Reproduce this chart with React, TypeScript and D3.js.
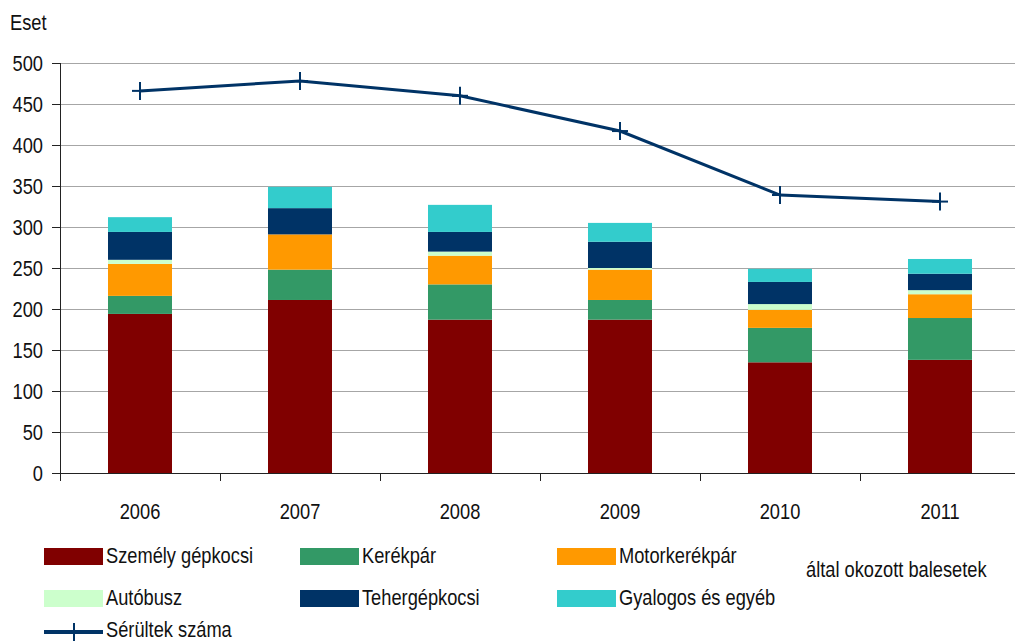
import React from "react";
import * as d3 from "d3";

const years = ["2006", "2007", "2008", "2009", "2010", "2011"];
const szemely = [194, 211, 187, 187, 135, 138];
const kerekpar = [22, 37, 43, 24, 42, 51];
const motor = [39, 43, 35, 37, 22, 29];
const autobusz = [5, 0, 5, 2, 7, 5];
const teher = [34, 32, 24, 32, 27, 20];
const gyalogos = [18, 26, 33, 23, 16, 18];
const serultek = [466, 478, 460, 417, 339, 331];
const yTicks = [0, 50, 100, 150, 200, 250, 300, 350, 400, 450, 500];

const seriesNames = ["Személy gépkocsi", "Kerékpár", "Motorkerékpár", "Autóbusz", "Tehergépkocsi", "Gyalogos és egyéb"];
const seriesColors = ["#800000", "#339966", "#FF9900", "#CCFFCC", "#003366", "#33CCCC"];
const lineName = "Sérültek száma";
const lineColor = "#003366";
const note = "által okozott balesetek";

const FONT = "'Liberation Sans', Arial, sans-serif";
const SX = 0.83;

function T({ x, y, anchor = "start", children }: { x: number; y: number; anchor?: string; children: React.ReactNode }) {
  return (
    <text transform={`translate(${x},${y}) scale(${SX},1)`} textAnchor={anchor} fontSize={22} fill="#111">
      {children}
    </text>
  );
}

export default function App() {
  const W = 1015, H = 641;
  const left = 60, right = 1020, top = 63, bottom = 473;
  const xc = d3.scalePoint().domain(years).range([left, right]).padding(0.5);
  const y = d3.scaleLinear().domain([0, 500]).range([bottom, top]);

  const table = years.map((yr, i) => ({
    year: yr,
    s0: szemely[i], s1: kerekpar[i], s2: motor[i], s3: autobusz[i], s4: teher[i], s5: gyalogos[i],
  }));
  const keys = ["s0", "s1", "s2", "s3", "s4", "s5"];
  const stacked = d3.stack<any>().keys(keys)(table);
  const bw = 64;

  const line = d3.line<number>().x((_, i) => xc(years[i])!).y((d) => y(d));

  const legendCols = [44, 300, 557];
  const legendRows = [548, 590];
  const boundaries = d3.range(years.length + 1).map((i) => left + (i * (right - left)) / years.length);

  return (
    <svg width={W} height={H} style={{ position: "absolute", left: 0, top: 0, background: "#fff" }} fontFamily={FONT}>
      {yTicks.filter((t) => t > 0).map((t) => (
        <line key={t} x1={left} x2={W} y1={y(t) + 0.5} y2={y(t) + 0.5} stroke="#a6a6a6" strokeWidth={1.2} />
      ))}
      {stacked.map((s, si) => (
        <g key={si} fill={seriesColors[si]}>
          {s.map((d, i) => (
            <rect key={i} x={xc(years[i])! - bw / 2} width={bw} y={y(d[1])} height={Math.max(0, y(d[0]) - y(d[1]))} />
          ))}
        </g>
      ))}
      <line x1={left + 0.5} x2={left + 0.5} y1={top} y2={bottom + 8} stroke="#222" strokeWidth={1} />
      <line x1={left - 8} x2={W} y1={bottom + 0.5} y2={bottom + 0.5} stroke="#222" strokeWidth={1} />
      {yTicks.map((t) => (
        <g key={t}>
          <line x1={left - 8} x2={left} y1={y(t) + 0.5} y2={y(t) + 0.5} stroke="#222" />
          <T x={43} y={y(t) + 8} anchor="end">{t}</T>
        </g>
      ))}
      {boundaries.map((b, i) => (
        <line key={i} x1={b + 0.5} x2={b + 0.5} y1={bottom} y2={bottom + 8} stroke="#222" />
      ))}
      {years.map((yr) => (
        <T key={yr} x={xc(yr)!} y={519} anchor="middle">{yr}</T>
      ))}
      <T x={10} y={30}>Eset</T>
      <path d={line(serultek)!} fill="none" stroke={lineColor} strokeWidth={3} />
      {serultek.map((v, i) => (
        <g key={i} stroke={lineColor} strokeWidth={2}>
          <line x1={xc(years[i])! - 8} x2={xc(years[i])! + 8} y1={y(v)} y2={y(v)} />
          <line x1={xc(years[i])!} x2={xc(years[i])!} y1={y(v) - 9} y2={y(v) + 9} />
        </g>
      ))}
      {seriesNames.map((n, i) => {
        const cx = legendCols[i % 3];
        const cy = legendRows[Math.floor(i / 3)];
        return (
          <g key={n}>
            <rect x={cx} y={cy} width={59} height={17} fill={seriesColors[i]} />
            <T x={cx + 62} y={cy + 15}>{n}</T>
          </g>
        );
      })}
      <g>
        <line x1={44} x2={103} y1={632} y2={632} stroke={lineColor} strokeWidth={4} />
        <line x1={74} x2={74} y1={623} y2={641} stroke={lineColor} strokeWidth={2} />
        <T x={106} y={637}>{lineName}</T>
      </g>
      <T x={806} y={577}>{note}</T>
    </svg>
  );
}
